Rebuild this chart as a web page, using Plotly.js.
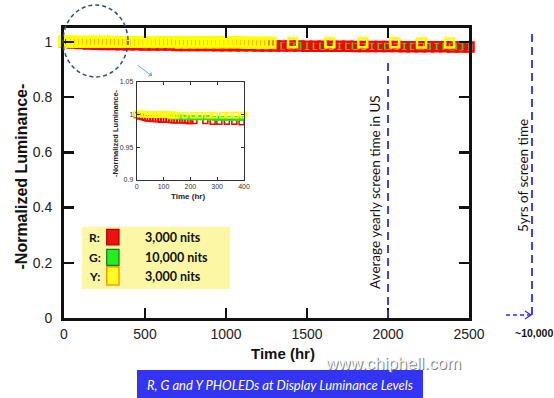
<!DOCTYPE html>
<html>
<head>
<meta charset="utf-8">
<script src="https://cdn.plot.ly/plotly-3.0.1.min.js"></script>
<style>html,body{margin:0;padding:0;background:#fff;}#chart{width:554px;height:398px;}</style>
</head>
<body>
<div id="chart"></div>
<script>
// ---------- main chart data (hours, normalized luminance) ----------
var redT = [0,50,100,150,200,250,300,350,400,450,500,550,600,650,700,750,800,850,900,950,1000,1050,1100,1150,1200,1250,1300,1350,1400,1450,1500,1550,1600,1650,1700,1750,1800,1850,1900,1950,2000,2050,2100,2150,2200,2250,2300,2350,2400,2450,2500];
var redY = [1.000,0.996,0.994,0.992,0.991,0.990,0.990,0.989,0.989,0.989,0.988,0.988,0.988,0.988,0.987,0.987,0.987,0.987,0.987,0.986,0.986,0.986,0.986,0.986,0.985,0.985,0.985,0.985,0.985,0.985,0.984,0.984,0.984,0.984,0.984,0.984,0.983,0.983,0.983,0.983,0.983,0.983,0.982,0.982,0.982,0.982,0.982,0.982,0.981,0.981,0.981];

var greenT = [1300,1340,1380,1420,1460,1500,1540,1580,1620,1660,1700,1740,1780,1820,1860,1900,1940,1980,2020,2060,2100,2140,2180,2220,2260,2300,2340,2380,2420,2460,2500];
var greenY = [0.986,0.986,0.986,0.986,0.986,0.986,0.985,0.985,0.985,0.985,0.985,0.985,0.985,0.985,0.984,0.984,0.984,0.984,0.984,0.984,0.984,0.984,0.984,0.983,0.983,0.983,0.983,0.983,0.983,0.983,0.983];

var yelDenseT = [0,25,50,75,100,125,150,175,200,225,250,275,300,325,350,375,400,425,450,475,500,525,550,575,600,625,650,675,700,725,750,775,800,825,850,875,900,925,950,975,1000,1025,1050,1075,1100,1125,1150,1175,1200,1225,1250,1275];
var yelDenseY = [1.001,1.001,1.000,1.000,1.000,1.000,1.000,1.000,1.000,1.000,1.000,1.000,1.000,0.999,0.999,0.999,0.999,0.999,0.999,0.999,0.999,0.999,0.999,0.999,0.999,0.999,0.999,0.999,0.998,0.998,0.998,0.998,0.998,0.998,0.998,0.998,0.998,0.998,0.998,0.998,0.998,0.998,0.998,0.998,0.998,0.997,0.997,0.997,0.997,0.997,0.997,0.997];
var yelSparseT = [1411,1641,1844,2041,2207,2380];
var yelSparseY = [0.997,0.997,0.997,0.997,0.996,0.996];

// ---------- inset data (first 400 h) ----------
var inRedT = [0,10,20,30,40,50,60,70,80,90,100,110,120,130,140,150,160,170,180,190,200,215,256,283,308,336,364,391];
var inRedY = [0.999,0.997,0.996,0.995,0.994,0.994,0.993,0.993,0.993,0.992,0.992,0.992,0.992,0.991,0.991,0.991,0.991,0.991,0.991,0.990,0.990,0.990,0.990,0.989,0.989,0.989,0.989,0.988];
var inGreenT = [125,140,155,170,185,200,215,230,245,260,275,290,305,320,335,350,365,380,395];
var inGreenY = [0.996,0.996,0.996,0.996,0.995,0.995,0.995,0.995,0.995,0.995,0.995,0.994,0.994,0.994,0.994,0.994,0.994,0.994,0.994];
var inYelT = [0,10,20,30,40,50,60,70,80,90,100,110,120,130,140,150,180,210,235,265,290,320,345,370,398];
var inYelY = [1.001,1.001,1.001,1.000,1.000,1.000,1.000,1.000,1.000,1.000,1.000,1.000,1.000,0.999,0.999,0.999,0.999,0.999,0.999,0.999,0.999,0.999,0.999,0.999,0.999];

// ---------- text ----------
var xTicks = [0,500,1000,1500,2000,2500];
var yTicks = [0,0.2,0.4,0.6,0.8,1];
var yTickText = ['0','0.2','0.4','0.6','0.8','1'];
var inXTicks = [0,100,200,300,400];
var inYTicks = [0.9,0.95,1,1.05];
var inYTickText = ['0.9','0.95','1','1.05'];
var legendKeys = ['R:','G:','Y:'];
var legendLabels = ['3,000 nits','10,000 nits','3,000 nits'];
var yearLineHour = 2000;

// pixel -> paper helpers for the main plot area (64..469 x, 28..318 y)
function px(x){ return (x-64)/405; }
function py(y){ return (318-y)/290; }

var RED='#ff0000', GRN='#22e022', YEL='#ffff00';

var traces = [
  {x:redT, y:redY, mode:'lines+markers', cliponaxis:false, line:{color:RED,width:6},
   marker:{symbol:'square-open', size:9, color:RED, line:{width:2.5,color:RED}}, hoverinfo:'skip'},
  {x:greenT, y:greenY, mode:'markers', cliponaxis:false,
   marker:{symbol:'line-ns-open', size:5, color:GRN, line:{width:1.6,color:GRN}}, hoverinfo:'skip'},
  {x:yelDenseT, y:yelDenseY, mode:'markers', cliponaxis:false,
   marker:{symbol:'square-open', size:9, color:YEL, line:{width:3,color:YEL}}, hoverinfo:'skip'},
  {x:yelSparseT, y:yelSparseY, mode:'markers', cliponaxis:false,
   marker:{symbol:'square-open', size:9, color:YEL, line:{width:2.5,color:YEL}}, hoverinfo:'skip'},
  // inset
  {x:inRedT, y:inRedY, xaxis:'x2', yaxis:'y2', mode:'markers', cliponaxis:false,
   marker:{symbol:'square-open', size:5, color:RED, line:{width:1.5,color:RED}}, hoverinfo:'skip'},
  {x:inGreenT, y:inGreenY, xaxis:'x2', yaxis:'y2', mode:'markers', cliponaxis:false,
   marker:{symbol:'square', size:5, color:GRN, line:{width:0}}, hoverinfo:'skip'},
  {x:inYelT, y:inYelY, xaxis:'x2', yaxis:'y2', mode:'markers', cliponaxis:false,
   marker:{symbol:'square-open', size:5, color:YEL, line:{width:1.8,color:YEL}}, hoverinfo:'skip'}
];

var axisFont = {family:'Liberation Sans, Arial, sans-serif', size:14, color:'#222'};
var inFont = {family:'Liberation Sans, Arial, sans-serif', size:7, color:'#333'};
var BLUE='#2b2bf2';

var shapes = [
  // legend box
  {type:'rect', xref:'paper', yref:'paper', x0:px(82), x1:px(230), y0:py(289), y1:py(226.7), fillcolor:'#fbf7a4', line:{width:0}},
  {type:'rect', xref:'paper', yref:'paper', x0:px(106.7), x1:px(119), y0:py(245), y1:py(229.3), fillcolor:'#ee1111', line:{width:1.2,color:'#b00000'}},
  {type:'rect', xref:'paper', yref:'paper', x0:px(106.7), x1:px(119), y0:py(265.3), y1:py(249.3), fillcolor:'#22ee22', line:{width:1.2,color:'#137a13'}},
  {type:'rect', xref:'paper', yref:'paper', x0:px(106.7), x1:px(119), y0:py(285), y1:py(266.7), fillcolor:'#ffff22', line:{width:1.5,color:'#ff9a00'}},
  // dashed marker lines
  {type:'line', xref:'x', yref:'paper', x0:yearLineHour, x1:yearLineHour, y0:0, y1:py(58), line:{color:BLUE, width:1.8, dash:'8px,5px'}},
  {type:'line', xref:'paper', yref:'paper', x0:px(532), x1:px(532), y0:py(315), y1:py(33), line:{color:BLUE, width:1.8, dash:'8px,5px'}},
  {type:'line', xref:'paper', yref:'paper', x0:px(506), x1:px(530), y0:py(315), y1:py(315), line:{color:BLUE, width:1.5, dash:'4px,3px'}},
  {type:'path', xref:'paper', yref:'paper', path:'M '+px(525)+' '+py(311)+' L '+px(531)+' '+py(315)+' L '+px(525)+' '+py(319), line:{color:BLUE, width:1.2}},
  // dashed circle
  {type:'circle', xref:'paper', yref:'paper', x0:px(63), x1:px(128), y0:py(77), y1:py(5), line:{color:'#2e4d7b', width:1.5, dash:'4px,3px'}},
  // banner
  {type:'rect', xref:'paper', yref:'paper', x0:px(137), x1:px(423), y0:py(398), y1:py(370), fillcolor:'#3434f4', line:{width:0}}
];

function ann(o){ o.xref='paper'; o.yref='paper'; if(!o.xanchor) o.xanchor='center'; o.yanchor='middle'; if(o.showarrow===undefined) o.showarrow=false; return o; }

var annotations = [
  ann({text:'<b>-Normalized Luminance-</b>', x:px(21), y:py(176.5), textangle:-90,
   font:{family:'Liberation Sans, Arial, sans-serif', size:16, color:'#111'}}),
  ann({text:'<b>Time (hr)</b>', x:px(283), y:py(353),
   font:{family:'Liberation Sans, Arial, sans-serif', size:15, color:'#111'}}),
  ann({text:'Average yearly screen time in US', x:px(375), y:py(192), textangle:-90,
   font:{family:'Lato, sans-serif', size:13.5, color:'#111'}}),
  ann({text:'5yrs of screen time', x:px(523), y:py(176), textangle:-90,
   font:{family:'Lato, sans-serif', size:13.5, color:'#111'}}),
  ann({text:'<b>~10,000</b>', x:px(513), y:py(333), xanchor:'left',
   font:{family:'Liberation Sans, Arial, sans-serif', size:10.5, color:'#111'}}),
  // inset titles
  ann({text:'<b>-Normalized Luminance-</b>', x:px(115), y:py(133), textangle:-90,
   font:{family:'Liberation Sans, Arial, sans-serif', size:7.5, color:'#222'}}),
  ann({text:'<b>Time (hr)</b>', x:px(188), y:py(196.5),
   font:{family:'Liberation Sans, Arial, sans-serif', size:8, color:'#222'}}),
  // banner text
  ann({text:'<i>R, G and Y PHOLEDs at Display Luminance Levels</i>', x:px(280), y:py(384.5),
   font:{family:'Lato, sans-serif', size:13, color:'#ffffff'}}),
  // watermark
  ann({text:'www.chiphell.com', x:px(393.5), y:py(364),
   font:{family:'Liberation Sans, Arial, sans-serif', size:17, color:'#7a7a7a'}}),
  ann({text:'www.chiphell.com', x:px(392.5), y:py(363),
   font:{family:'Liberation Sans, Arial, sans-serif', size:17, color:'#f6f6f6'}})
];
// small arrow toward the inset
annotations.push({text:'', xref:'paper', yref:'paper', x:px(152), y:py(76), ax:-16, ay:-12, showarrow:true, arrowhead:1, arrowsize:1, arrowwidth:1, arrowcolor:'#7aa6dc'});

for (var i=0;i<legendKeys.length;i++){
  var yy = [237.5,257.5,276][i];
  annotations.push(ann({text:'<b>'+legendKeys[i]+'</b>', x:px(87), y:py(yy), xanchor:'left',
    font:{family:'Lato, sans-serif', size:12, color:'#111'}}));
  annotations.push(ann({text:'<b>'+legendLabels[i]+'</b>', x:px(143), y:py(yy), xanchor:'left',
    font:{family:'Lato, sans-serif', size:12.5, color:'#111'}}));
}

var layout = {
  width:554, height:398,
  margin:{l:64, r:85, t:28, b:80, pad:0},
  paper_bgcolor:'#ffffff', plot_bgcolor:'rgba(0,0,0,0)',
  showlegend:false,
  xaxis:{domain:[0,1], range:[0,2500], tickvals:xTicks, ticks:'inside', ticklen:10, tickwidth:2.5, tickcolor:'#111',
    showline:true, linewidth:3, linecolor:'#111', mirror:'ticks', showgrid:false, zeroline:false,
    tickfont:axisFont, ticklabelstandoff:1, fixedrange:true},
  yaxis:{domain:[0,1], range:[0,1.05], tickvals:yTicks, ticktext:yTickText, ticks:'inside', ticklen:10, tickwidth:2.5, tickcolor:'#111',
    showline:true, linewidth:3, linecolor:'#111', mirror:'ticks', showgrid:false, zeroline:false,
    tickfont:axisFont, ticklabelstandoff:6, fixedrange:true},
  xaxis2:{domain:[px(136.7), px(244)], anchor:'y2', range:[0,400], tickvals:inXTicks, ticks:'inside', ticklen:3, tickwidth:1, tickcolor:'#333',
    showline:true, linewidth:1, linecolor:'#333', mirror:'ticks', showgrid:false, zeroline:false, tickfont:inFont, ticklabelstandoff:0},
  yaxis2:{domain:[py(180), py(81.7)], anchor:'x2', range:[0.9,1.05], tickvals:inYTicks, ticktext:inYTickText, ticks:'inside', ticklen:3, tickwidth:1, tickcolor:'#333',
    showline:true, linewidth:1, linecolor:'#333', mirror:'ticks', showgrid:false, zeroline:false, tickfont:inFont, ticklabelstandoff:1},
  shapes:shapes,
  annotations:annotations
};

Plotly.newPlot('chart', traces, layout, {staticPlot:true, displayModeBar:false});
</script>
</body>
</html>
